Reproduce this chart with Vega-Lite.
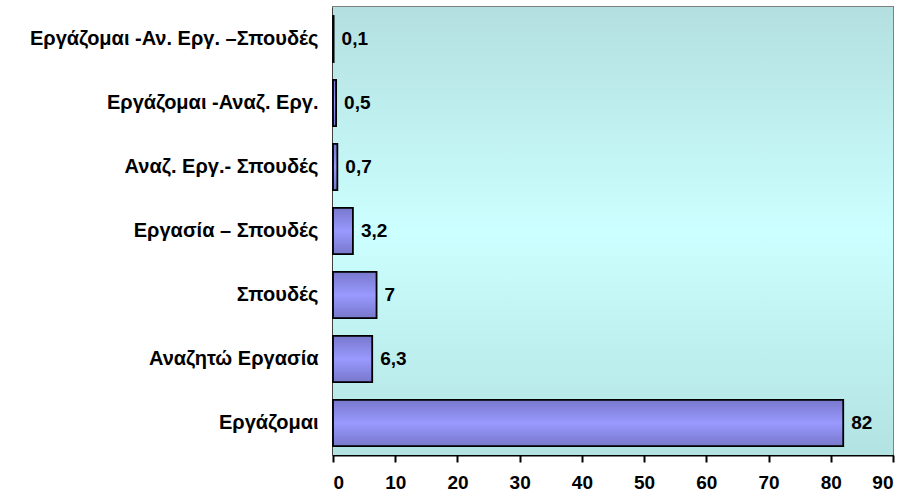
{
  "$schema": "https://vega.github.io/schema/vega-lite/v6.json",
  "width": 560,
  "height": 448,
  "autosize": {"type": "none"},
  "padding": {"left": 333, "top": 7, "right": 12, "bottom": 40},
  "background": "white",
  "config": {
    "view": {"stroke": "#808080", "strokeWidth": 2},
    "font": "Liberation Sans"
  },
  "data": {
    "values": [
      {"cat": "Εργάζομαι -Αν. Εργ. –Σπουδές", "val": 0.1, "lab": "0,1"},
      {"cat": "Εργάζομαι -Αναζ. Εργ.", "val": 0.5, "lab": "0,5"},
      {"cat": "Αναζ. Εργ.- Σπουδές", "val": 0.7, "lab": "0,7"},
      {"cat": "Εργασία – Σπουδές", "val": 3.2, "lab": "3,2"},
      {"cat": "Σπουδές", "val": 7, "lab": "7"},
      {"cat": "Αναζητώ Εργασία", "val": 6.3, "lab": "6,3"},
      {"cat": "Εργάζομαι", "val": 82, "lab": "82"}
    ]
  },
  "encoding": {
    "y": {
      "field": "cat", "type": "nominal", "sort": null,
      "scale": {"paddingInner": 0.28, "paddingOuter": 0.14},
      "axis": {
        "title": null, "ticks": false, "domainColor": "black", "domainWidth": 2,
        "labelFont": "Liberation Sans", "labelFontSize": 20, "labelFontWeight": "bold",
        "labelColor": "black", "labelPadding": 15, "labelLimit": 330
      }
    }
  },
  "layer": [
    {
      "mark": {
        "type": "rect",
        "fill": {
          "gradient": "linear", "x1": 0, "y1": 0, "x2": 0, "y2": 1,
          "stops": [
            {"offset": 0, "color": "#b3dfe0"},
            {"offset": 0.5, "color": "#ccffff"},
            {"offset": 1, "color": "#b3e2e2"}
          ]
        }
      },
      "encoding": {
        "x": {"datum": 0, "type": "quantitative"},
        "x2": {"datum": 90},
        "y": null
      }
    },
    {
      "mark": {
        "type": "bar",
        "stroke": "black",
        "strokeWidth": 1.8,
        "fill": {
          "gradient": "linear", "x1": 0, "y1": 0, "x2": 0, "y2": 1,
          "stops": [
            {"offset": 0, "color": "#7878cc"},
            {"offset": 0.5, "color": "#9999ff"},
            {"offset": 1, "color": "#7878cc"}
          ]
        }
      },
      "encoding": {
        "x": {
          "field": "val", "type": "quantitative",
          "scale": {"domain": [0, 90], "nice": false},
          "axis": {
            "title": null, "values": [0,10,20,30,40,50,60,70,80,90], "grid": false,
            "domainColor": "black", "domainWidth": 2, "tickColor": "black", "tickWidth": 2, "tickSize": 7,
            "labelFont": "Liberation Sans", "labelFontSize": 19, "labelFontWeight": "bold",
            "labelColor": "black", "labelPadding": 11
          }
        }
      }
    },
    {
      "mark": {
        "type": "text", "align": "left", "baseline": "middle", "dx": 8,
        "font": "Liberation Sans", "fontSize": 19, "fontWeight": "bold", "color": "black"
      },
      "encoding": {
        "x": {"field": "val", "type": "quantitative"},
        "text": {"field": "lab"}
      }
    }
  ]
}
